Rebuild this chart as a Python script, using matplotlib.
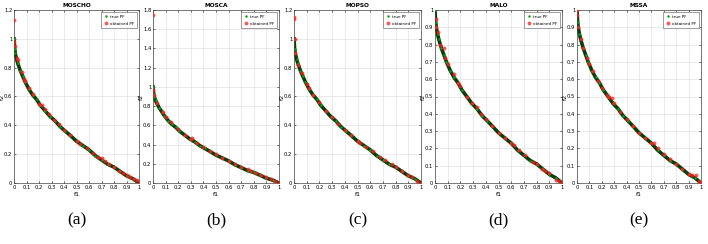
import matplotlib
matplotlib.use("Agg")
import matplotlib.pyplot as plt

titles = ["MOSCHO", "MOSCA", "MOPSO", "MALO", "MSSA"]
captions = ["(a)", "(b)", "(c)", "(d)", "(e)"]
ymax = [1.2, 1.8, 1.2, 1.0, 1.0]
ystep = [0.2, 0.2, 0.2, 0.1, 0.1]

# true Pareto front (same in every panel)
true_f1 = [0, 0.005, 0.01, 0.02, 0.03, 0.05, 0.07, 0.09, 0.12, 0.15, 0.18, 0.21, 0.25,
           0.29, 0.33, 0.37, 0.41, 0.45, 0.5, 0.55, 0.6, 0.65, 0.7, 0.75, 0.8, 0.85,
           0.9, 0.95, 1.0]
true_f2 = [1.0, 0.93, 0.90, 0.86, 0.83, 0.78, 0.74, 0.70, 0.65, 0.61, 0.58, 0.54, 0.50,
           0.46, 0.43, 0.39, 0.36, 0.33, 0.29, 0.26, 0.23, 0.19, 0.16, 0.13, 0.11, 0.08,
           0.05, 0.03, 0.0]

obt_f1 = [
    [0, 0, 0.005, 0.02, 0.03, 0.06, 0.08, 0.09, 0.12, 0.15, 0.2, 0.22, 0.25, 0.28, 0.32,
     0.36, 0.4, 0.45, 0.5, 0.53, 0.58, 0.63, 0.67, 0.7, 0.73, 0.76, 0.8, 0.84, 0.87, 0.9,
     0.93, 0.96, 0.98, 1.0],
    [0, 0, 0.01, 0.03, 0.08, 0.1, 0.14, 0.2, 0.25, 0.3, 0.31, 0.35, 0.4, 0.45, 0.5, 0.55,
     0.6, 0.65, 0.7, 0.75, 0.78, 0.82, 0.86, 0.9, 0.94, 0.97, 1.0],
    [0, 0, 0.005, 0.01, 0.03, 0.06, 0.1, 0.12, 0.15, 0.2, 0.25, 0.3, 0.35, 0.4, 0.45, 0.5,
     0.52, 0.57, 0.62, 0.68, 0.72, 0.77, 0.8, 0.85, 0.9, 0.93, 0.97, 1.0],
    [0.005, 0.01, 0.02, 0.04, 0.07, 0.08, 0.1, 0.15, 0.18, 0.2, 0.25, 0.29, 0.33, 0.36,
     0.4, 0.45, 0.5, 0.55, 0.6, 0.62, 0.66, 0.71, 0.77, 0.8, 0.84, 0.87, 0.9, 0.95, 0.98,
     1.0],
    [0, 0, 0.01, 0.03, 0.05, 0.08, 0.1, 0.13, 0.17, 0.2, 0.24, 0.26, 0.28, 0.3, 0.35, 0.4,
     0.45, 0.5, 0.55, 0.6, 0.62, 0.65, 0.7, 0.75, 0.8, 0.85, 0.9, 0.93, 0.96, 0.98, 1.0],
]
obt_f2 = [
    [1.13, 0.98, 0.95, 0.87, 0.85, 0.77, 0.72, 0.71, 0.66, 0.62, 0.55, 0.54, 0.51, 0.48,
     0.44, 0.41, 0.37, 0.33, 0.29, 0.27, 0.24, 0.21, 0.18, 0.17, 0.15, 0.13, 0.11, 0.085,
     0.07, 0.055, 0.04, 0.03, 0.02, 0.0],
    [1.75, 0.97, 0.92, 0.83, 0.74, 0.69, 0.63, 0.56, 0.50, 0.46, 0.47, 0.42, 0.37, 0.33,
     0.30, 0.26, 0.23, 0.20, 0.17, 0.15, 0.12, 0.10, 0.08, 0.06, 0.04, 0.02, 0.0],
    [1.15, 1.14, 1.0, 0.90, 0.82, 0.76, 0.69, 0.66, 0.61, 0.56, 0.50, 0.46, 0.41, 0.37,
     0.33, 0.29, 0.28, 0.25, 0.22, 0.18, 0.16, 0.13, 0.11, 0.08, 0.055, 0.04, 0.015, 0.0],
    [0.95, 0.90, 0.87, 0.80, 0.78, 0.72, 0.69, 0.63, 0.58, 0.56, 0.50, 0.46, 0.44, 0.40,
     0.37, 0.33, 0.29, 0.26, 0.23, 0.22, 0.19, 0.16, 0.12, 0.11, 0.08, 0.07, 0.055, 0.02,
     0.01, 0.0],
    [1.0, 0.97, 0.90, 0.83, 0.78, 0.72, 0.69, 0.65, 0.59, 0.55, 0.51, 0.50, 0.49, 0.46,
     0.41, 0.37, 0.33, 0.29, 0.26, 0.23, 0.23, 0.20, 0.17, 0.14, 0.11, 0.08, 0.05, 0.045,
     0.045, 0.01, 0.0],
]

lefts = [14, 153, 294, 435, 577]
widths = [125, 126, 127, 127, 124]
W, H = 708, 244

fig = plt.figure(figsize=(W / 100, H / 100), dpi=100)
for i in range(5):
    ax = fig.add_axes([lefts[i] / W, 1 - 183 / H, widths[i] / W, 173 / H])
    ax.plot(true_f1, true_f2, color="#0b3d0b", lw=2.6, zorder=2)
    ax.plot(true_f1, true_f2, "o", color="#1a9a1a", ms=1.8, mec="none", zorder=3,
            label="true PF")
    ax.plot(obt_f1[i], obt_f2[i], "o", color="#ff2020", ms=2.8, alpha=0.75, mec="none",
            zorder=4, label="obtained PF")
    ax.set_xlim(0, 1)
    ax.set_ylim(0, ymax[i])
    ax.set_xticks([k / 10 for k in range(11)])
    ax.set_xticklabels(["0"] + ["%.1f" % (k / 10) for k in range(1, 10)] + ["1"])
    n = int(round(ymax[i] / ystep[i]))
    yt = [round(k * ystep[i], 1) for k in range(n + 1)]
    ax.set_yticks(yt)
    ax.set_yticklabels(["%g" % v for v in yt])
    ax.tick_params(labelsize=3.8, length=1.5, width=0.4, pad=1.2, top=True, right=True,
                   direction="in")
    ax.grid(True, color="#e2e2e2", lw=0.5)
    for s in ax.spines.values():
        s.set_linewidth(0.5)
        s.set_color("#444444")
    ax.set_title(titles[i], fontsize=4.2, fontweight="bold", pad=2)
    ax.set_xlabel("f1", fontsize=4.5, labelpad=2)
    ax.set_ylabel("f2", fontsize=4.5)
    ax.yaxis.set_label_coords(-9.5 / widths[i], 0.5)
    leg = ax.legend(loc="upper right", fontsize=3.0, markerscale=1.0, handlelength=1.0,
                    borderpad=0.6, labelspacing=0.8, framealpha=1, fancybox=False,
                    edgecolor="#555555", handletextpad=0.6)
    leg.get_frame().set_linewidth(0.4)
    fig.text((lefts[i] + widths[i] / 2) / W, 1 - 220 / H, captions[i], ha="center",
             va="center", fontsize=12.5, family="Liberation Serif")

fig.savefig("out.png", dpi=100)
